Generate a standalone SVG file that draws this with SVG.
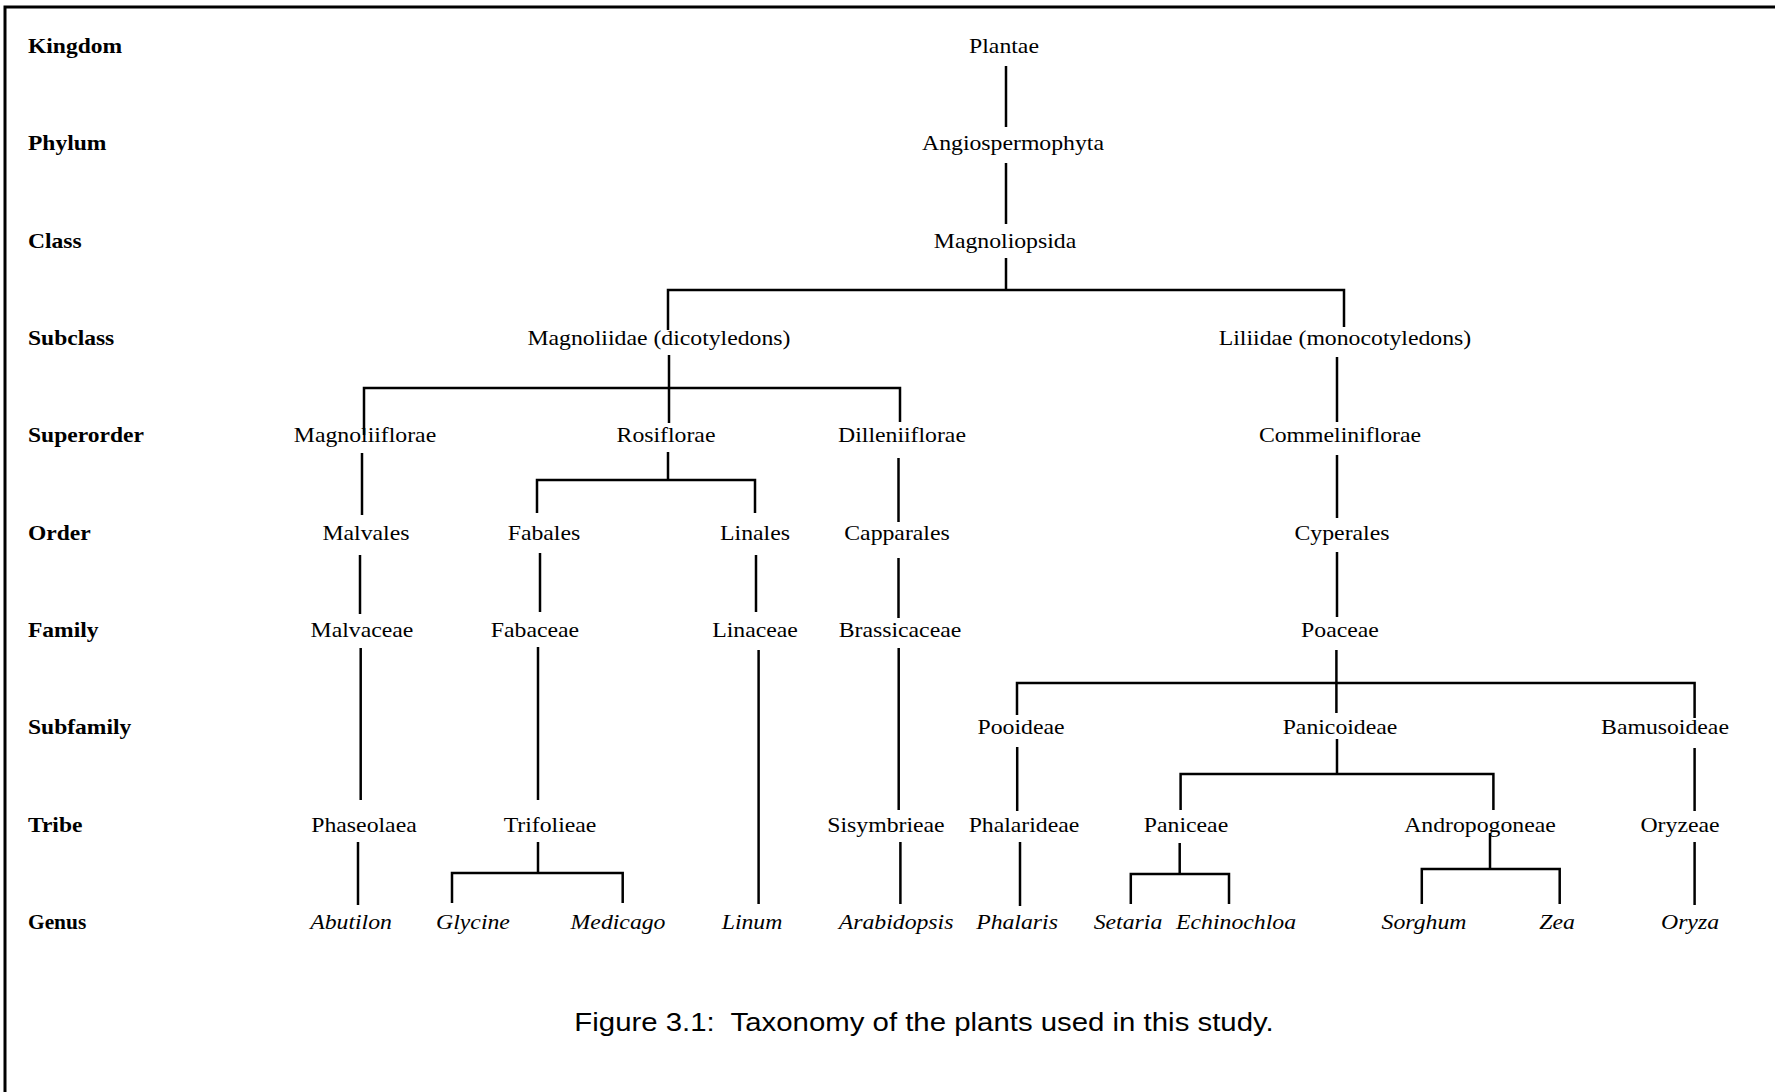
<svg xmlns="http://www.w3.org/2000/svg" width="1775" height="1092" viewBox="0 0 1775 1092">
<style>
text { font-family: "Liberation Serif", "Times New Roman", serif; font-size: 22px; fill: #000; transform-box: fill-box; }
.rank { font-weight: bold; transform-origin: left center; transform: scaleX(1.07); }
.rank.small { font-size: 20px; }
.n { text-anchor: middle; transform-origin: center; transform: scaleX(1.08); }
.g { font-style: italic; }
.cap { font-family: "Liberation Sans", Arial, sans-serif; font-size: 26px; text-anchor: middle; white-space: pre; transform-origin: center; transform: scaleX(1.13); }
.c path { fill: none; stroke: #000; stroke-width: 2.5; }
.frame { fill: none; stroke: #000; stroke-width: 3; }
</style>
<rect width="1775" height="1092" fill="#fff"/>
<path class="frame" d="M5 1092 V7 H1775"/>
<g id="ranks">
<text class="rank" x="28" y="53">Kingdom</text>
<text class="rank" x="28" y="150.5">Phylum</text>
<text class="rank" x="28" y="248">Class</text>
<text class="rank" x="28" y="345">Subclass</text>
<text class="rank" x="28" y="442">Superorder</text>
<text class="rank" x="28" y="540">Order</text>
<text class="rank" x="28" y="637">Family</text>
<text class="rank" x="28" y="734">Subfamily</text>
<text class="rank" x="28" y="832">Tribe</text>
<text class="rank small" x="28" y="929">Genus</text>
</g>
<g class="c" id="connectors">
<path d="M1006 66 V127"/>
<path d="M1006 163 V224"/>
<path d="M1006 258 V290"/>
<path d="M668 330 V290 H1344 V327"/>
<path d="M669 355 V423"/>
<path d="M364 435 V388 H900 V422"/>
<path d="M1337 357 V422"/>
<path d="M668 452 V480"/>
<path d="M537 513 V480 H755 V513"/>
<path d="M362 453 V515"/>
<path d="M898.5 458 V522"/>
<path d="M1337 455 V518"/>
<path d="M360 555 V614"/>
<path d="M540 553 V612"/>
<path d="M756 555 V612"/>
<path d="M898.5 558 V618"/>
<path d="M1337 552 V617"/>
<path d="M360.7 648 V800"/>
<path d="M538 647 V800"/>
<path d="M758.6 650 V904"/>
<path d="M898.7 648 V810"/>
<path d="M1336.4 650 V713"/>
<path d="M1017 715 V683 H1694.6 V718"/>
<path d="M1017.2 747 V811"/>
<path d="M1337 739 V774"/>
<path d="M1180.6 810 V774 H1493.4 V810"/>
<path d="M1694.6 748 V811"/>
<path d="M358 842 V905"/>
<path d="M538 842 V873"/>
<path d="M452 903 V873 H622.7 V903"/>
<path d="M900.4 842 V904"/>
<path d="M1020 842 V906"/>
<path d="M1179.7 843 V874"/>
<path d="M1130.8 904 V874 H1229 V904"/>
<path d="M1490 833 V869"/>
<path d="M1421.8 904 V869 H1559.7 V904"/>
<path d="M1694.6 842 V905"/>
</g>
<g id="plantae"><text class="n" x="1004" y="53">Plantae</text></g>
<g id="angiospermophyta"><text class="n" x="1013" y="150.5">Angiospermophyta</text></g>
<g id="magnoliopsida"><text class="n" x="1005" y="248">Magnoliopsida</text></g>
<g id="magnoliidae"><text class="n" x="659" y="345">Magnoliidae (dicotyledons)</text></g>
<g id="liliidae"><text class="n" x="1345" y="345">Liliidae (monocotyledons)</text></g>
<g id="magnoliiflorae"><text class="n" x="365" y="442">Magnoliiflorae</text></g>
<g id="rosiflorae"><text class="n" x="666" y="442">Rosiflorae</text></g>
<g id="dilleniiflorae"><text class="n" x="902" y="442">Dilleniiflorae</text></g>
<g id="commeliniflorae"><text class="n" x="1340" y="442">Commeliniflorae</text></g>
<g id="malvales"><text class="n" x="366" y="540">Malvales</text></g>
<g id="fabales"><text class="n" x="544" y="540">Fabales</text></g>
<g id="linales"><text class="n" x="755" y="540">Linales</text></g>
<g id="capparales"><text class="n" x="897" y="540">Capparales</text></g>
<g id="cyperales"><text class="n" x="1342" y="540">Cyperales</text></g>
<g id="malvaceae"><text class="n" x="362" y="637">Malvaceae</text></g>
<g id="fabaceae"><text class="n" x="535" y="637">Fabaceae</text></g>
<g id="linaceae"><text class="n" x="755" y="637">Linaceae</text></g>
<g id="brassicaceae"><text class="n" x="900" y="637">Brassicaceae</text></g>
<g id="poaceae"><text class="n" x="1340" y="637">Poaceae</text></g>
<g id="pooideae"><text class="n" x="1021" y="734">Pooideae</text></g>
<g id="panicoideae"><text class="n" x="1340" y="734">Panicoideae</text></g>
<g id="bamusoideae"><text class="n" x="1665" y="734">Bamusoideae</text></g>
<g id="phaseolaea"><text class="n" x="364" y="832">Phaseolaea</text></g>
<g id="trifolieae"><text class="n" x="550" y="832">Trifolieae</text></g>
<g id="sisymbrieae"><text class="n" x="886" y="832">Sisymbrieae</text></g>
<g id="phalarideae"><text class="n" x="1024" y="832">Phalarideae</text></g>
<g id="paniceae"><text class="n" x="1186" y="832">Paniceae</text></g>
<g id="andropogoneae"><text class="n" x="1480" y="832">Andropogoneae</text></g>
<g id="oryzeae"><text class="n" x="1680" y="832">Oryzeae</text></g>
<g id="abutilon"><text class="n g" x="351" y="929">Abutilon</text></g>
<g id="glycine"><text class="n g" x="473" y="929">Glycine</text></g>
<g id="medicago"><text class="n g" x="618" y="929">Medicago</text></g>
<g id="linum"><text class="n g" x="752" y="929">Linum</text></g>
<g id="arabidopsis"><text class="n g" x="896" y="929">Arabidopsis</text></g>
<g id="phalaris"><text class="n g" x="1017" y="929">Phalaris</text></g>
<g id="setaria"><text class="n g" x="1128" y="929">Setaria</text></g>
<g id="echinochloa"><text class="n g" x="1236" y="929">Echinochloa</text></g>
<g id="sorghum"><text class="n g" x="1424" y="929">Sorghum</text></g>
<g id="zea"><text class="n g" x="1557" y="929">Zea</text></g>
<g id="oryza"><text class="n g" x="1690" y="929">Oryza</text></g>
<g id="caption"><text class="cap" x="924" y="1031" xml:space="preserve">Figure 3.1:  Taxonomy of the plants used in this study.</text></g>
</svg>
